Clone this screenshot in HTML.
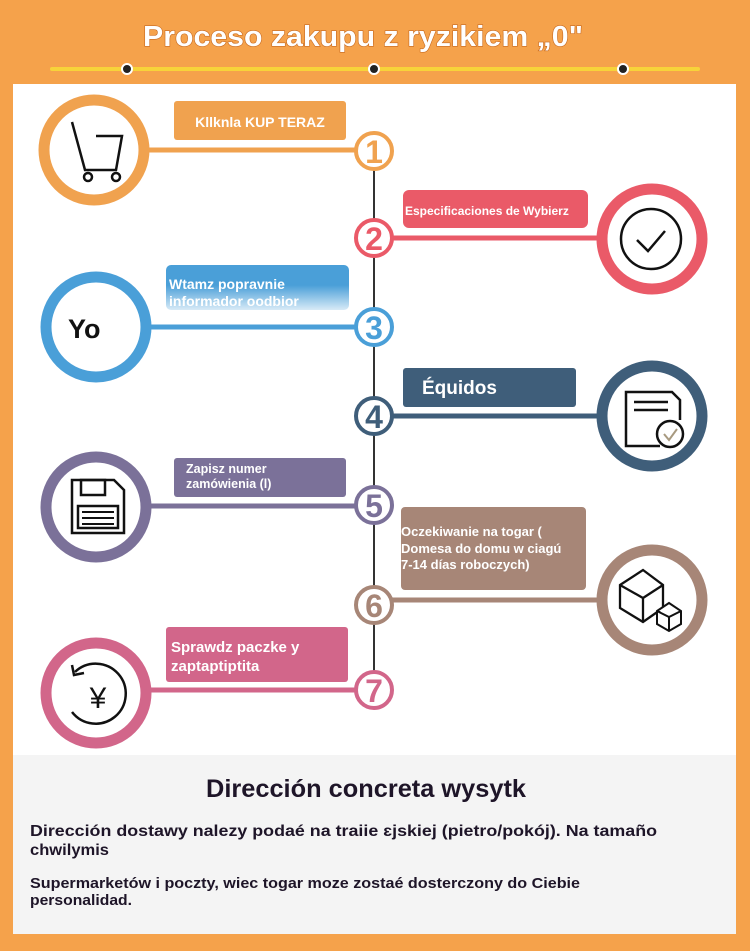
<!DOCTYPE html>
<html><head><meta charset="utf-8"><style>
html,body{margin:0;padding:0;background:#F5A24B;}
svg{display:block}
text{font-family:"Liberation Sans","DejaVu Sans",sans-serif;}
</style></head><body>
<svg width="750" height="951" viewBox="0 0 750 951" xmlns="http://www.w3.org/2000/svg">
<defs>
<linearGradient id="g3" x1="0" y1="0" x2="0" y2="1">
<stop offset="0" stop-color="#4A9FD8"/><stop offset="0.45" stop-color="#4A9FD8"/><stop offset="1" stop-color="#d8ebf7"/>
</linearGradient>
</defs>
<rect x="0" y="0" width="750" height="951" fill="#F5A24B"/>
<text x="363" y="46" text-anchor="middle" font-size="29" font-weight="bold" fill="#fff" stroke="#C86A20" stroke-width="1.2" paint-order="stroke" textLength="440" lengthAdjust="spacingAndGlyphs">Proceso zakupu z ryzikiem „0"</text>
<line x1="52" y1="69" x2="698" y2="69" stroke="#F7D33A" stroke-width="4" stroke-linecap="round"/>
<circle cx="127" cy="69" r="5" fill="#222" stroke="#fff" stroke-width="2"/>
<circle cx="374" cy="69" r="5" fill="#222" stroke="#fff" stroke-width="2"/>
<circle cx="623" cy="69" r="5" fill="#222" stroke="#fff" stroke-width="2"/>
<rect x="13" y="84" width="723" height="850" fill="#fff"/>
<rect x="13" y="755" width="723" height="179" fill="#F4F4F4"/>
<line x1="374" y1="160" x2="374" y2="690" stroke="#333" stroke-width="2"/>

<!-- Step 1 -->
<rect x="174" y="101" width="172" height="39" rx="3" fill="#F0A24F"/>
<text x="260" y="127" text-anchor="middle" font-size="14" font-weight="bold" fill="#fff">Kllknla KUP TERAZ</text>
<line x1="140" y1="150" x2="356" y2="150" stroke="#F0A24F" stroke-width="5"/>
<circle cx="94" cy="150" r="50" fill="#fff" stroke="#F0A24F" stroke-width="11"/>
<path d="M72 122 L85 170 L116 170 L122 136 L96 136" fill="none" stroke="#111" stroke-width="2.5"/>
<circle cx="88" cy="177" r="4" fill="#fff" stroke="#111" stroke-width="2.5"/>
<circle cx="116" cy="177" r="4" fill="#fff" stroke="#111" stroke-width="2.5"/>
<circle cx="374" cy="151" r="18" fill="#fff" stroke="#F0A24F" stroke-width="4"/>
<text x="374" y="163" text-anchor="middle" font-size="32" font-weight="bold" fill="#F0A24F">1</text>

<!-- Step 2 -->
<rect x="403" y="190" width="185" height="38" rx="6" fill="#EA5A68"/>
<text x="405" y="215" font-size="12" font-weight="bold" fill="#fff">Especificaciones de Wybierz</text>
<line x1="392" y1="238" x2="606" y2="238" stroke="#EA5A68" stroke-width="5"/>
<circle cx="652" cy="239" r="50" fill="#fff" stroke="#EA5A68" stroke-width="11"/>
<circle cx="651" cy="239" r="30" fill="none" stroke="#111" stroke-width="2.5"/>
<path d="M637 240 L648 251 L665 231" fill="none" stroke="#111" stroke-width="2.5"/>
<circle cx="374" cy="238" r="18" fill="#fff" stroke="#EA5A68" stroke-width="4"/>
<text x="374" y="250" text-anchor="middle" font-size="32" font-weight="bold" fill="#EA5A68">2</text>

<!-- Step 3 -->
<rect x="166" y="265" width="183" height="45" rx="5" fill="url(#g3)"/>
<text x="169" y="289" font-size="14" font-weight="bold" fill="#fff">Wtamz popravnie</text>
<text x="169" y="306" font-size="14" font-weight="bold" fill="#fff">informador oodbior</text>
<line x1="140" y1="327" x2="356" y2="327" stroke="#4A9FD8" stroke-width="5"/>
<circle cx="96" cy="327" r="50" fill="#fff" stroke="#4A9FD8" stroke-width="11"/>
<text x="68" y="338" font-size="27" font-weight="bold" fill="#111">Yo</text>
<circle cx="374" cy="327" r="18" fill="#fff" stroke="#4A9FD8" stroke-width="4"/>
<text x="374" y="339" text-anchor="middle" font-size="32" font-weight="bold" fill="#4A9FD8">3</text>

<!-- Step 4 -->
<rect x="403" y="368" width="173" height="39" rx="3" fill="#3F5E7A"/>
<text x="422" y="394" font-size="19" font-weight="bold" fill="#fff">Équidos</text>
<line x1="392" y1="416" x2="606" y2="416" stroke="#3F5E7A" stroke-width="5"/>
<circle cx="652" cy="416" r="50" fill="#fff" stroke="#3F5E7A" stroke-width="11"/>
<path d="M660 446 L626 446 L626 392 L672 392 L680 400 L680 420" fill="none" stroke="#111" stroke-width="2.5"/>
<line x1="634" y1="402" x2="668" y2="402" stroke="#111" stroke-width="2.5"/>
<line x1="634" y1="410" x2="668" y2="410" stroke="#111" stroke-width="2.5"/>
<circle cx="670" cy="434" r="13" fill="#fff" stroke="#111" stroke-width="2.5"/>
<path d="M664 434 L669 440 L677 429" fill="none" stroke="#a89a80" stroke-width="2"/>
<circle cx="374" cy="416" r="18" fill="#fff" stroke="#3F5E7A" stroke-width="4"/>
<text x="374" y="428" text-anchor="middle" font-size="32" font-weight="bold" fill="#3F5E7A">4</text>

<!-- Step 5 -->
<rect x="174" y="458" width="172" height="39" rx="3" fill="#7B7199"/>
<text x="186" y="473" font-size="12.5" font-weight="bold" fill="#fff">Zapisz numer</text>
<text x="186" y="488" font-size="12.5" font-weight="bold" fill="#fff">zamówienia (l)</text>
<line x1="140" y1="506" x2="356" y2="506" stroke="#7B7199" stroke-width="5"/>
<circle cx="96" cy="507" r="50" fill="#fff" stroke="#7B7199" stroke-width="11"/>
<path d="M72 480 L114 480 L124 490 L124 533 L72 533 Z" fill="none" stroke="#111" stroke-width="2.5"/>
<rect x="81" y="480" width="24" height="15" fill="none" stroke="#111" stroke-width="2.5"/>
<rect x="78" y="506" width="40" height="22" fill="none" stroke="#111" stroke-width="2.5"/>
<line x1="82" y1="512" x2="114" y2="512" stroke="#111" stroke-width="2"/>
<line x1="82" y1="518" x2="114" y2="518" stroke="#111" stroke-width="2"/>
<line x1="82" y1="524" x2="114" y2="524" stroke="#111" stroke-width="2"/>
<circle cx="374" cy="505" r="18" fill="#fff" stroke="#7B7199" stroke-width="4"/>
<text x="374" y="517" text-anchor="middle" font-size="32" font-weight="bold" fill="#7B7199">5</text>

<!-- Step 6 -->
<rect x="401" y="507" width="185" height="83" rx="4" fill="#A78677"/>
<text x="401" y="536" font-size="13" font-weight="bold" fill="#fff">Oczekiwanie na togar (</text>
<text x="401" y="553" font-size="13" font-weight="bold" fill="#fff">Domesa do domu w ciagú</text>
<text x="401" y="569" font-size="13" font-weight="bold" fill="#fff">7-14 días roboczych)</text>
<line x1="392" y1="600" x2="606" y2="600" stroke="#A78677" stroke-width="5"/>
<circle cx="652" cy="600" r="50" fill="#fff" stroke="#A78677" stroke-width="11"/>
<path d="M620 585 L643 570 L663 585 L663 608 L643 622 L620 608 Z M620 585 L643 598 L663 585 M643 598 L643 622" fill="none" stroke="#111" stroke-width="2.3"/>
<path d="M657 611 L669 603 L681 611 L681 624 L669 631 L657 624 Z M657 611 L669 617 L681 611 M669 617 L669 631" fill="#fff" stroke="#111" stroke-width="2"/>
<circle cx="374" cy="605" r="18" fill="#fff" stroke="#A78677" stroke-width="4"/>
<text x="374" y="617" text-anchor="middle" font-size="32" font-weight="bold" fill="#A78677">6</text>

<!-- Step 7 -->
<rect x="166" y="627" width="182" height="55" rx="3" fill="#D2668A"/>
<text x="171" y="652" font-size="15" font-weight="bold" fill="#fff">Sprawdz paczke y</text>
<text x="171" y="671" font-size="15" font-weight="bold" fill="#fff">zaptaptiptita</text>
<line x1="140" y1="690" x2="356" y2="690" stroke="#D2668A" stroke-width="5"/>
<circle cx="96" cy="693" r="50" fill="#fff" stroke="#D2668A" stroke-width="11"/>
<path d="M75 672 A30 30 0 1 1 72 712" fill="none" stroke="#111" stroke-width="2.5"/>
<path d="M72 665 L74 675 L84 673" fill="none" stroke="#111" stroke-width="2.5"/>
<text x="98" y="708" text-anchor="middle" font-size="30" fill="#111">¥</text>
<circle cx="374" cy="690" r="18" fill="#fff" stroke="#D2668A" stroke-width="4"/>
<text x="374" y="702" text-anchor="middle" font-size="32" font-weight="bold" fill="#D2668A">7</text>

<!-- bottom -->
<text x="206" y="797" font-size="25" font-weight="bold" fill="#1E1528" textLength="320" lengthAdjust="spacingAndGlyphs">Dirección concreta wysytk</text>
<text x="30" y="836" font-size="16" font-weight="bold" fill="#1E1528" textLength="627" lengthAdjust="spacingAndGlyphs">Dirección dostawy nalezy podaé na traiie ɛjskiej (pietro/pokój). Na tamaño</text>
<text x="30" y="855" font-size="16" font-weight="bold" fill="#1E1528" textLength="79" lengthAdjust="spacingAndGlyphs">chwilymis</text>
<text x="30" y="888" font-size="15" font-weight="bold" fill="#1E1528" textLength="550" lengthAdjust="spacingAndGlyphs">Supermarketów i poczty, wiec togar moze zostaé dosterczony do Ciebie</text>
<text x="30" y="905" font-size="15" font-weight="bold" fill="#1E1528" textLength="102" lengthAdjust="spacingAndGlyphs">personalidad.</text>
</svg>
</body></html>
